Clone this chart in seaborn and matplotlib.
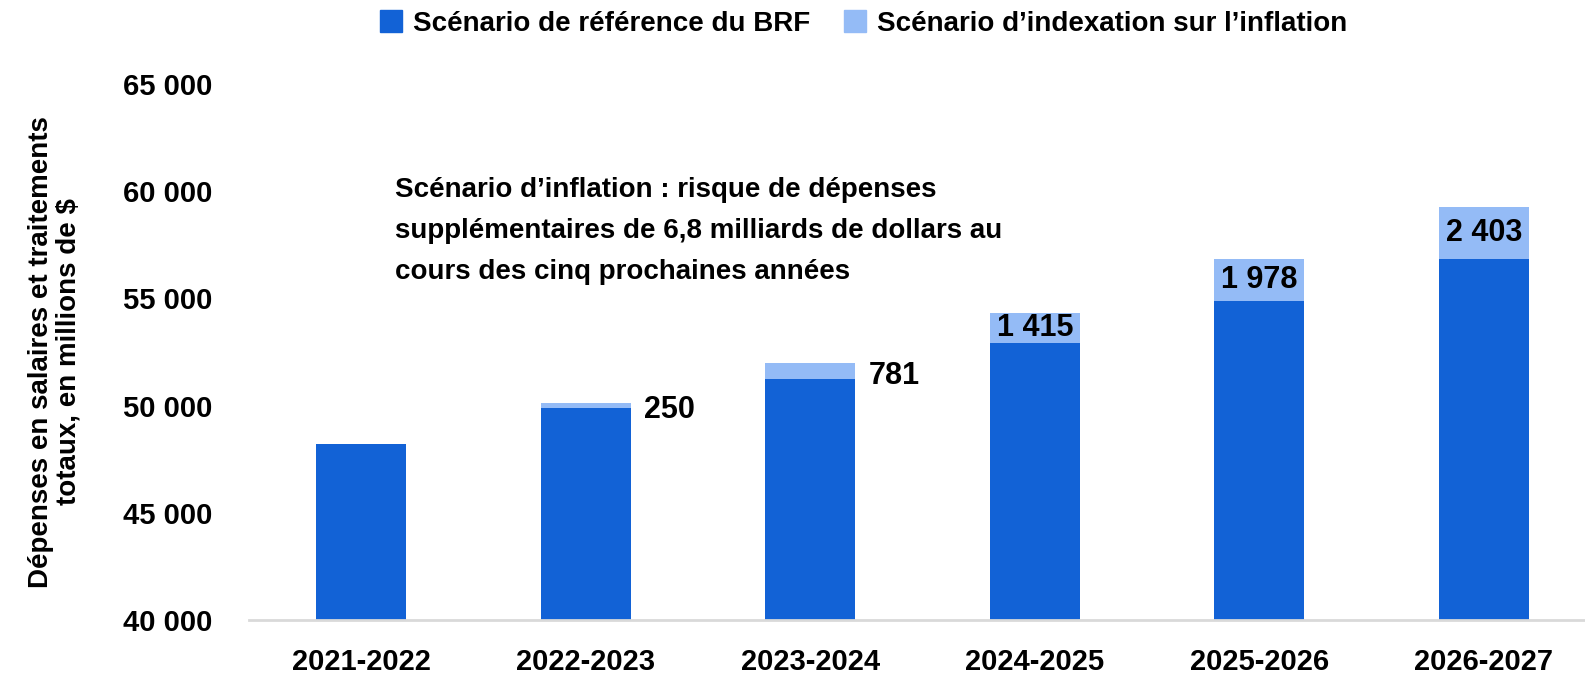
import matplotlib
matplotlib.use("Agg")
import matplotlib.pyplot as plt
import matplotlib.patches as mpatches
from matplotlib.ticker import FuncFormatter
import seaborn as sns
import pandas as pd

# ─── Data ────────────────────────────────────────────────────────────────
YEARS = ['2021-2022', '2022-2023', '2023-2024', '2024-2025', '2025-2026', '2026-2027']
BASE = [48200, 49870, 51220, 52900, 54860, 56860]
EXTRA = [0, 250, 781, 1415, 1978, 2403]
EXTRA_LABELS = ['', '250', '781', '1 415', '1 978', '2 403']
INSIDE = [False, False, False, True, True, True]

LEGEND_LABELS = ['Scénario de référence du BRF', 'Scénario d\u2019indexation sur l\u2019inflation']
NOTE = ('Scénario d\u2019inflation : risque de dépenses\n'
        'supplémentaires de 6,8 milliards de dollars au\n'
        'cours des cinq prochaines années')
YLABEL = 'Dépenses en salaires et traitements\ntotaux, en millions de $'

DARK = '#1262D6'
LIGHT = '#94BBF6'

sns.set_theme(style='white')
plt.rcParams['font.family'] = ['Liberation Sans Narrow', 'Liberation Sans', 'DejaVu Sans']
plt.rcParams['font.weight'] = 'bold'
plt.rcParams['text.color'] = 'black'

df = pd.DataFrame({'year': YEARS, 'base': BASE, 'extra': EXTRA})
df['total'] = df['base'] + df['extra']

fig = plt.figure(figsize=(15.85, 6.75), dpi=100)
ax = fig.add_axes([0.157, 0.0815, 0.843, 0.794])

# light (inflation) stack drawn as total, dark base drawn over it
sns.barplot(data=df, x='year', y='total', color=LIGHT, width=0.4,
            saturation=1, ax=ax, linewidth=0)
sns.barplot(data=df, x='year', y='base', color=DARK, width=0.4,
            saturation=1, ax=ax, linewidth=0)

ax.set_ylim(40000, 65000)
ax.set_xlim(-0.5, 5.45)
ax.set_yticks(range(40000, 65001, 5000))
ax.yaxis.set_major_formatter(FuncFormatter(lambda v, p: f"{v:,.0f}".replace(",", " ")))
ax.tick_params(axis='y', length=0, pad=26, labelsize=21, colors='black')
ax.tick_params(axis='x', length=0, pad=20, labelsize=21, colors='black')
for lab in ax.get_xticklabels() + ax.get_yticklabels():
    lab.set_fontweight('bold')

for s in ['top', 'right', 'left']:
    ax.spines[s].set_visible(False)
ax.spines['bottom'].set_color('#D9D9D9')
ax.spines['bottom'].set_linewidth(2)

ax.set_xlabel('')
ax.set_ylabel(YLABEL, fontsize=20, fontweight='bold', labelpad=30, linespacing=1.1,
              color='black')

# value labels
for i, (b, e, lbl, inside) in enumerate(zip(BASE, EXTRA, EXTRA_LABELS, INSIDE)):
    if not lbl:
        continue
    if inside:
        ax.text(i, b + e / 2, lbl, ha='center', va='center', fontsize=22,
                fontweight='bold', color='black')
    else:
        ax.text(i + 0.26, b + e / 2 - 220, lbl, ha='left', va='center', fontsize=22,
                fontweight='bold', color='black')

ax.text(0.15, 60650, NOTE, ha='left', va='top', fontsize=20, fontweight='bold',
        linespacing=1.75, color='black')

handles = [mpatches.Patch(color=DARK, label=LEGEND_LABELS[0]),
           mpatches.Patch(color=LIGHT, label=LEGEND_LABELS[1])]
leg = fig.legend(handles=handles, loc='center', bbox_to_anchor=(0.545, 0.965), ncol=2,
                 frameon=False, fontsize=20, handlelength=0.8, handleheight=0.8,
                 handletextpad=0.4, columnspacing=1.2)
for t in leg.get_texts():
    t.set_fontweight('bold')
    t.set_color('black')

fig.savefig('out.png', dpi=100)
